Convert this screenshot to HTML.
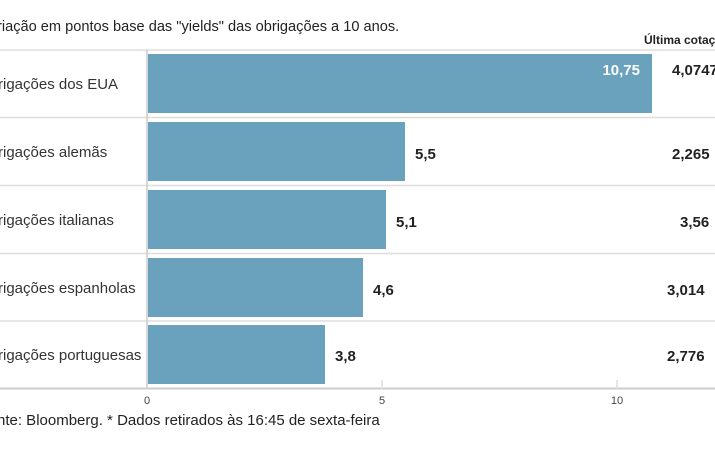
<!DOCTYPE html>
<html><head><meta charset="utf-8"><style>
body{margin:0;width:715px;height:445px;background:#fff;overflow:hidden;font-family:"Liberation Sans",sans-serif;}
</style></head><body>
<svg width="715" height="445" xmlns="http://www.w3.org/2000/svg" font-family="Liberation Sans, sans-serif">
<text x="-3" y="31" font-size="14.6" fill="#222">riação em pontos base das "yields" das obrigações a 10 anos.</text>
<text x="644" y="44" font-size="12" font-weight="bold" fill="#222">Última cotação</text>
<g stroke="#ddd" stroke-width="1.5">
<line x1="0" y1="50" x2="715" y2="50"/>
<line x1="0" y1="117.5" x2="715" y2="117.5"/>
<line x1="0" y1="185.5" x2="715" y2="185.5"/>
<line x1="0" y1="253.5" x2="715" y2="253.5"/>
<line x1="0" y1="321" x2="715" y2="321"/>
<line x1="0" y1="388.5" x2="715" y2="388.5" stroke="#ccc" stroke-width="2"/>
<line x1="147" y1="50" x2="147" y2="389" stroke="#ccc"/>
<line x1="382" y1="380" x2="382" y2="389"/>
<line x1="617" y1="380" x2="617" y2="389"/>
</g>
<g fill="#6aa2bd">
<rect x="148" y="54" width="504" height="59"/>
<rect x="148" y="122" width="257" height="59"/>
<rect x="148" y="190" width="238" height="59"/>
<rect x="148" y="258" width="215" height="59"/>
<rect x="148" y="325" width="177" height="59"/>
</g>
<g font-size="15" fill="#333">
<text x="-2" y="89">rigações dos EUA</text>
<text x="-2" y="157">rigações alemãs</text>
<text x="-2" y="225">rigações italianas</text>
<text x="-2" y="293">rigações espanholas</text>
<text x="-2" y="360">rigações portuguesas</text>
</g>
<text x="640" y="75" font-size="15" font-weight="bold" fill="#fff" text-anchor="end">10,75</text>
<g font-size="15" font-weight="bold" fill="#222">
<text x="415" y="159">5,5</text>
<text x="396" y="227">5,1</text>
<text x="373" y="295">4,6</text>
<text x="335" y="361">3,8</text>
<text x="672" y="75">4,0747</text>
<text x="672" y="159">2,265</text>
<text x="680" y="227">3,56</text>
<text x="667" y="295">3,014</text>
<text x="667" y="361">2,776</text>
</g>
<g font-size="11" fill="#444" text-anchor="middle">
<text x="147" y="404">0</text>
<text x="382" y="404">5</text>
<text x="617" y="404">10</text>
</g>
<text x="-3" y="425" font-size="15" fill="#222">nte: Bloomberg.  * Dados retirados às 16:45 de sexta-feira</text>
</svg>
</body></html>
